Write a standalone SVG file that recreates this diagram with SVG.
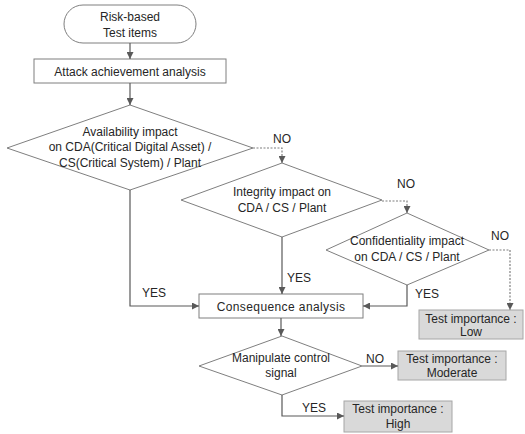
<svg xmlns="http://www.w3.org/2000/svg" width="525" height="434" viewBox="0 0 525 434">
<defs>
<marker id="ah" viewBox="0 0 10 10" refX="10" refY="5" markerWidth="7" markerHeight="7" markerUnits="userSpaceOnUse" orient="auto">
<path d="M0,0 L10,5 L0,10 z" fill="#595959"/>
</marker>
<style>
.n{fill:#ffffff;stroke:#7f7f7f;stroke-width:1}
.g{fill:#d9d9d9;stroke:#a6a6a6;stroke-width:1}
.t{font-family:"Liberation Sans",Arial,sans-serif;font-size:12px;fill:#262626;text-anchor:middle}
.l{font-family:"Liberation Sans",Arial,sans-serif;font-size:12px;fill:#262626}
.c{fill:none;stroke:#595959;stroke-width:1.2;marker-end:url(#ah)}
.d{fill:none;stroke:#7f7f7f;stroke-width:1.2;stroke-dasharray:2,1.5;marker-end:url(#ah)}
</style>
</defs>
<rect width="525" height="434" fill="#ffffff"/>
<g id="start">
<rect class="n" x="64" y="5" width="132" height="38" rx="19" ry="19"/>
<text class="t" x="130" y="21">Risk-based</text>
<text class="t" x="130" y="37">Test items</text>
</g>
<g id="attack">
<rect class="n" x="34" y="59" width="192" height="24"/>
<text class="t" x="130" y="75.5">Attack achievement analysis</text>
</g>
<g id="availability">
<polygon class="n" points="130,105 253,148 130,190 7,148"/>
<text class="t" x="130" y="136">Availability impact</text>
<text class="t" x="130" y="151">on CDA(Critical Digital Asset) /</text>
<text class="t" x="130" y="167">CS(Critical System) / Plant</text>
</g>
<g id="integrity">
<polygon class="n" points="282,163 382,200 282,237 181,200"/>
<text class="t" x="282" y="196">Integrity impact on</text>
<text class="t" x="282" y="212">CDA / CS / Plant</text>
</g>
<g id="confidentiality">
<polygon class="n" points="407,213 489,250 407,285 326,250"/>
<text class="t" x="407" y="245">Confidentiality impact</text>
<text class="t" x="407" y="261">on CDA / CS / Plant</text>
</g>
<g id="consequence">
<rect class="n" x="199" y="294" width="164" height="24"/>
<text class="t" x="281" y="310.5" letter-spacing="0.4">Consequence analysis</text>
</g>
<g id="manipulate">
<polygon class="n" points="282,336 362,366 282,395 199,366"/>
<text class="t" x="281" y="362">Manipulate control</text>
<text class="t" x="281" y="377">signal</text>
</g>
<g id="low">
<rect class="g" x="419" y="310" width="104" height="29"/>
<text class="t" x="471" y="323">Test importance :</text>
<text class="t" x="471" y="336">Low</text>
</g>
<g id="moderate">
<rect class="g" x="398" y="351" width="108" height="29"/>
<text class="t" x="452" y="363">Test importance :</text>
<text class="t" x="452" y="377">Moderate</text>
</g>
<g id="high">
<rect class="g" x="344" y="401" width="108" height="31"/>
<text class="t" x="398" y="413">Test importance :</text>
<text class="t" x="398" y="428">High</text>
</g>
<g id="connectors">
<path class="c" d="M130,43 V59"/>
<path class="c" d="M130,83 V105"/>
<path class="d" d="M253,148 H282 V163"/>
<path class="d" d="M382,201 H407 V213"/>
<path class="d" d="M489,250 H510 V310"/>
<path class="c" d="M130,190 V306 H199"/>
<path class="c" d="M282,237 V294"/>
<path class="c" d="M407,285 V306 H363"/>
<path class="c" d="M281,318 V336"/>
<path class="c" d="M362,366 H398"/>
<path class="c" d="M282,395 V416 H344"/>
<text class="l" x="273" y="143">NO</text>
<text class="l" x="397" y="188">NO</text>
<text class="l" x="491" y="240">NO</text>
<text class="l" x="142" y="297">YES</text>
<text class="l" x="287" y="282">YES</text>
<text class="l" x="415" y="298">YES</text>
<text class="l" x="366" y="363">NO</text>
<text class="l" x="302" y="412">YES</text>
</g>
</svg>
